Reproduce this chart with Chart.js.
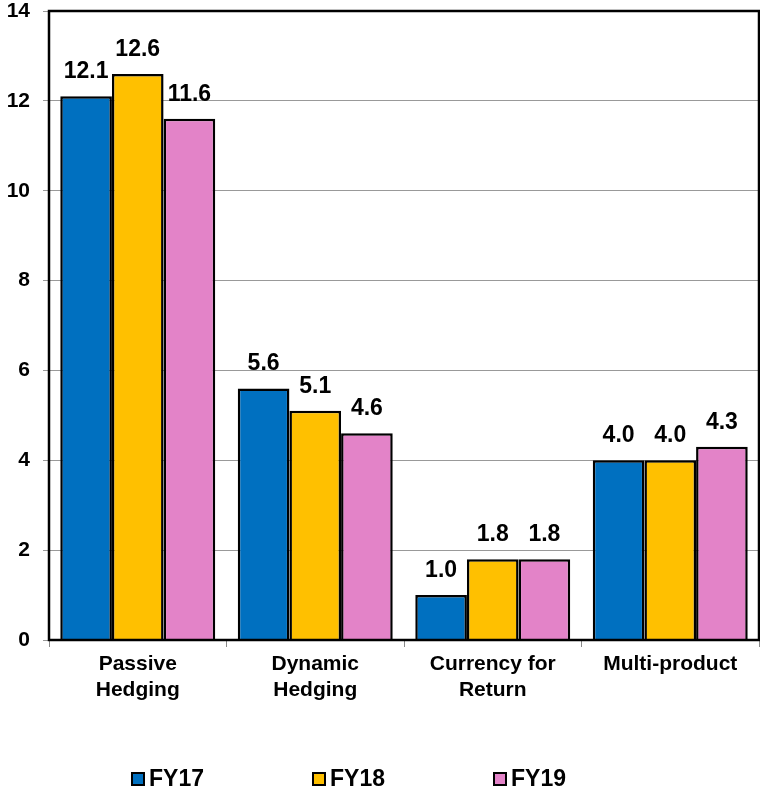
<!DOCTYPE html>
<html>
<head>
<meta charset="utf-8">
<script src="https://cdn.jsdelivr.net/npm/chart.js@4"></script>
<style>
  html, body { margin: 0; padding: 0; background: #fff; }
  #wrap { position: relative; width: 760px; height: 791px; }
  #legend { position: absolute; left: 131px; top: 765px; display: flex; }
  .item { width: 181px; display: flex; align-items: center; font: bold 23px "Liberation Sans", Arial, sans-serif; color: #000; }
  .box { width: 10px; height: 10px; border: 2px solid #000; margin-right: 4px; }
</style>
</head>
<body>
<div id="wrap">
  <canvas id="chart" width="760" height="791"></canvas>
  <div id="legend"></div>
</div>
<script>
const categories = [['Passive', 'Hedging'], ['Dynamic', 'Hedging'], ['Currency for', 'Return'], ['Multi-product']];
const fy17 = [12.1, 5.6, 1.0, 4.0];
const fy18 = [12.6, 5.1, 1.8, 4.0];
const fy19 = [11.6, 4.6, 1.8, 4.3];
const seriesNames = ['FY17', 'FY18', 'FY19'];
const colors = ['#0070C0', '#FFC000', '#E383C8'];

const FONT = '"Liberation Sans", Arial, sans-serif';

const valueLabels = {
  id: 'valueLabels',
  afterDatasetsDraw(chart) {
    const ctx = chart.ctx;
    ctx.save();
    ctx.font = 'bold 23px ' + FONT;
    ctx.fillStyle = '#000';
    ctx.textAlign = 'center';
    ctx.textBaseline = 'alphabetic';
    chart.data.datasets.forEach((ds, i) => {
      chart.getDatasetMeta(i).data.forEach((bar, j) => {
        ctx.fillText(ds.data[j].toFixed(1), bar.x, bar.y - 18);
      });
    });
    ctx.restore();
  }
};

const frame = {
  id: 'frame',
  afterDatasetsDraw(chart) {
    const a = chart.chartArea;
    const ctx = chart.ctx;
    ctx.save();
    ctx.strokeStyle = '#000';
    ctx.lineWidth = 2.5;
    ctx.strokeRect(a.left, a.top, a.right - a.left, a.bottom - a.top);
    ctx.restore();
  }
};

const datasets = [fy17, fy18, fy19].map((d, i) => ({
  label: seriesNames[i],
  data: d,
  backgroundColor: colors[i],
  borderColor: '#000',
  borderWidth: 2.5,
  categoryPercentage: 0.873,
  barPercentage: 1
}));

new Chart(document.getElementById('chart'), {
  type: 'bar',
  data: { labels: categories, datasets },
  options: {
    responsive: false,
    animation: false,
    layout: { padding: { top: 0, right: 1, left: 0, bottom: 0 } },
    plugins: { legend: { display: false }, tooltip: { enabled: false } },
    scales: {
      x: {
        afterFit: s => { s.height = 151; },
        grid: { drawOnChartArea: false, drawTicks: true, tickLength: 7, color: '#888', offset: true },
        border: { display: false },
        ticks: { color: '#000', font: { family: FONT, size: 21, weight: 'bold', lineHeight: 1.2 }, padding: 5, maxRotation: 0 }
      },
      y: {
        min: 0, max: 14,
        afterFit: s => { s.width = 49; s.paddingTop = 11; },
        grid: { color: '#999', lineWidth: 1, tickLength: 6 },
        border: { display: false },
        ticks: { stepSize: 2, color: '#000', font: { family: FONT, size: 21, weight: 'bold', lineHeight: 0.1 }, padding: 13 }
      }
    }
  },
  plugins: [valueLabels, frame]
});

const legendEl = document.getElementById('legend');
legendEl.innerHTML = seriesNames.map((n, i) =>
  `<div class="item"><span class="box" style="background:${colors[i]}"></span>${n}</div>`
).join('');
</script>
</body>
</html>
